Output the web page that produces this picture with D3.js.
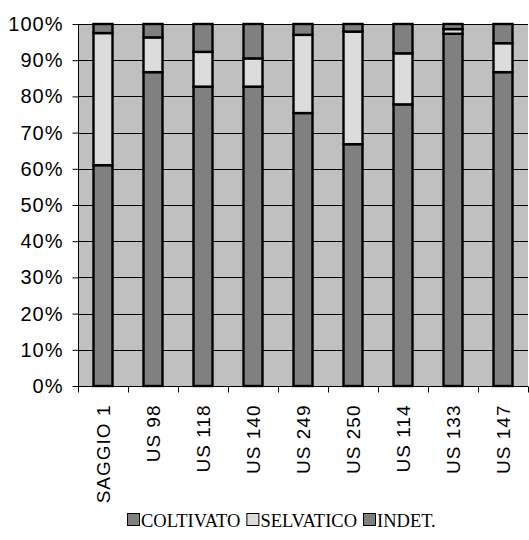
<!DOCTYPE html>
<html>
<head>
<meta charset="utf-8">
<script src="https://cdn.jsdelivr.net/npm/d3@7"></script>
<style>
  html, body { margin: 0; padding: 0; background: #fff; }
  svg { display: block; }
</style>
</head>
<body>
<svg id="chart" width="529" height="540"></svg>
<script>
// Sample units and their share (%) of cultivated, wild and undetermined remains
const categories = ["SAGGIO 1", "US 98", "US 118", "US 140", "US 249", "US 250", "US 114", "US 133", "US 147"];
const coltivato  = [61.0, 86.7, 82.7, 82.7, 75.4, 66.8, 77.8, 97.3, 86.7];
const selvatico  = [36.5,  9.6,  9.6,  7.8, 21.6, 31.1, 14.1,  1.3,  8.0];
const indet      = [ 2.5,  3.7,  7.7,  9.5,  3.0,  2.1,  8.1,  1.4,  5.3];
const seriesNames = ["COLTIVATO", "SELVATICO", "INDET."];
const yTicks = [0, 10, 20, 30, 40, 50, 60, 70, 80, 90, 100];

const colors = { "COLTIVATO": "#808080", "SELVATICO": "#DCDCDC", "INDET.": "#808080" };

const svg = d3.select("#chart");
const plot = { left: 78, right: 528, top: 24, bottom: 386 };

const rows = categories.map((c, i) => ({
  cat: c,
  "COLTIVATO": coltivato[i],
  "SELVATICO": selvatico[i],
  "INDET.": indet[i]
}));

// Normalise each column to 100%
const series = d3.stack().keys(seriesNames).offset(d3.stackOffsetExpand)(rows);

const x = d3.scaleBand().domain(categories).range([plot.left, plot.right]).paddingInner(0).paddingOuter(0);
const y = d3.scaleLinear().domain([0, 1]).range([plot.bottom, plot.top]);

// Plot background
svg.append("rect")
  .attr("x", plot.left).attr("y", plot.top)
  .attr("width", plot.right - plot.left).attr("height", plot.bottom - plot.top)
  .attr("fill", "#C0C0C0");

// Horizontal gridlines
svg.append("g")
  .selectAll("line")
  .data(yTicks.filter(t => t > 0))
  .join("line")
  .attr("x1", plot.left).attr("x2", plot.right)
  .attr("y1", d => Math.round(y(d / 100)) + 0.5)
  .attr("y2", d => Math.round(y(d / 100)) + 0.5)
  .attr("stroke", "#000").attr("stroke-width", 1);

// Bars
const barW = x.bandwidth() * 0.38;
svg.append("g")
  .selectAll("g")
  .data(series)
  .join("g")
  .attr("fill", d => colors[d.key])
  .selectAll("rect")
  .data(d => d)
  .join("rect")
  .attr("x", d => x(d.data.cat) + (x.bandwidth() - barW) / 2)
  .attr("y", d => y(d[1]))
  .attr("width", barW)
  .attr("height", d => y(d[0]) - y(d[1]))
  .attr("stroke", "#000")
  .attr("stroke-width", 2.4);

const axisFont = "Liberation Sans, Arial, sans-serif";

// Y axis
const yAxis = d3.axisLeft(y)
  .tickValues(yTicks.map(t => t / 100))
  .tickFormat(d => Math.round(d * 100) + "%")
  .tickSize(6)
  .tickPadding(9);
const gy = svg.append("g")
  .attr("transform", `translate(${plot.left + 0.5},0)`)
  .call(yAxis);
gy.selectAll("text")
  .attr("font-family", axisFont)
  .attr("font-size", 20)
  .attr("letter-spacing", 1)
  .attr("fill", "#000");
gy.selectAll("line, path").attr("stroke", "#000");
gy.select(".domain").attr("d", `M0,${plot.top}V${plot.bottom}`);

// X axis with ticks at category boundaries
const gx = svg.append("g").attr("transform", `translate(0,${plot.bottom + 0.5})`);
gx.append("line")
  .attr("x1", plot.left).attr("x2", plot.right)
  .attr("stroke", "#000");
gx.selectAll("line.tick")
  .data(categories.map(c => x(c)).concat([plot.right]))
  .join("line")
  .attr("class", "tick")
  .attr("x1", d => Math.round(d) + 0.5).attr("x2", d => Math.round(d) + 0.5)
  .attr("y1", 0).attr("y2", 6)
  .attr("stroke", "#000");
gx.selectAll("text")
  .data(categories)
  .join("text")
  .attr("transform", d => `translate(${x(d) + x.bandwidth() / 2 + 7},18) rotate(-90)`)
  .attr("text-anchor", "end")
  .attr("font-family", axisFont)
  .attr("font-size", 19)
  .attr("letter-spacing", 1)
  .attr("fill", "#000")
  .text(d => d);

// Legend
const legend = svg.append("g").attr("transform", "translate(127,527)");
let lx = 0;
seriesNames.forEach(name => {
  const g = legend.append("g").attr("transform", `translate(${lx},0)`);
  g.append("rect")
    .attr("x", 0.5).attr("y", -13.5)
    .attr("width", 12).attr("height", 12)
    .attr("fill", colors[name])
    .attr("stroke", "#000").attr("stroke-width", 1);
  const t = g.append("text")
    .attr("x", 14).attr("y", 0)
    .attr("font-family", "Liberation Serif, Times New Roman, serif")
    .attr("font-size", 18.5)
    .attr("fill", "#000")
    .text(name);
  lx += 14 + t.node().getComputedTextLength() + 6;
});
</script>
</body>
</html>
